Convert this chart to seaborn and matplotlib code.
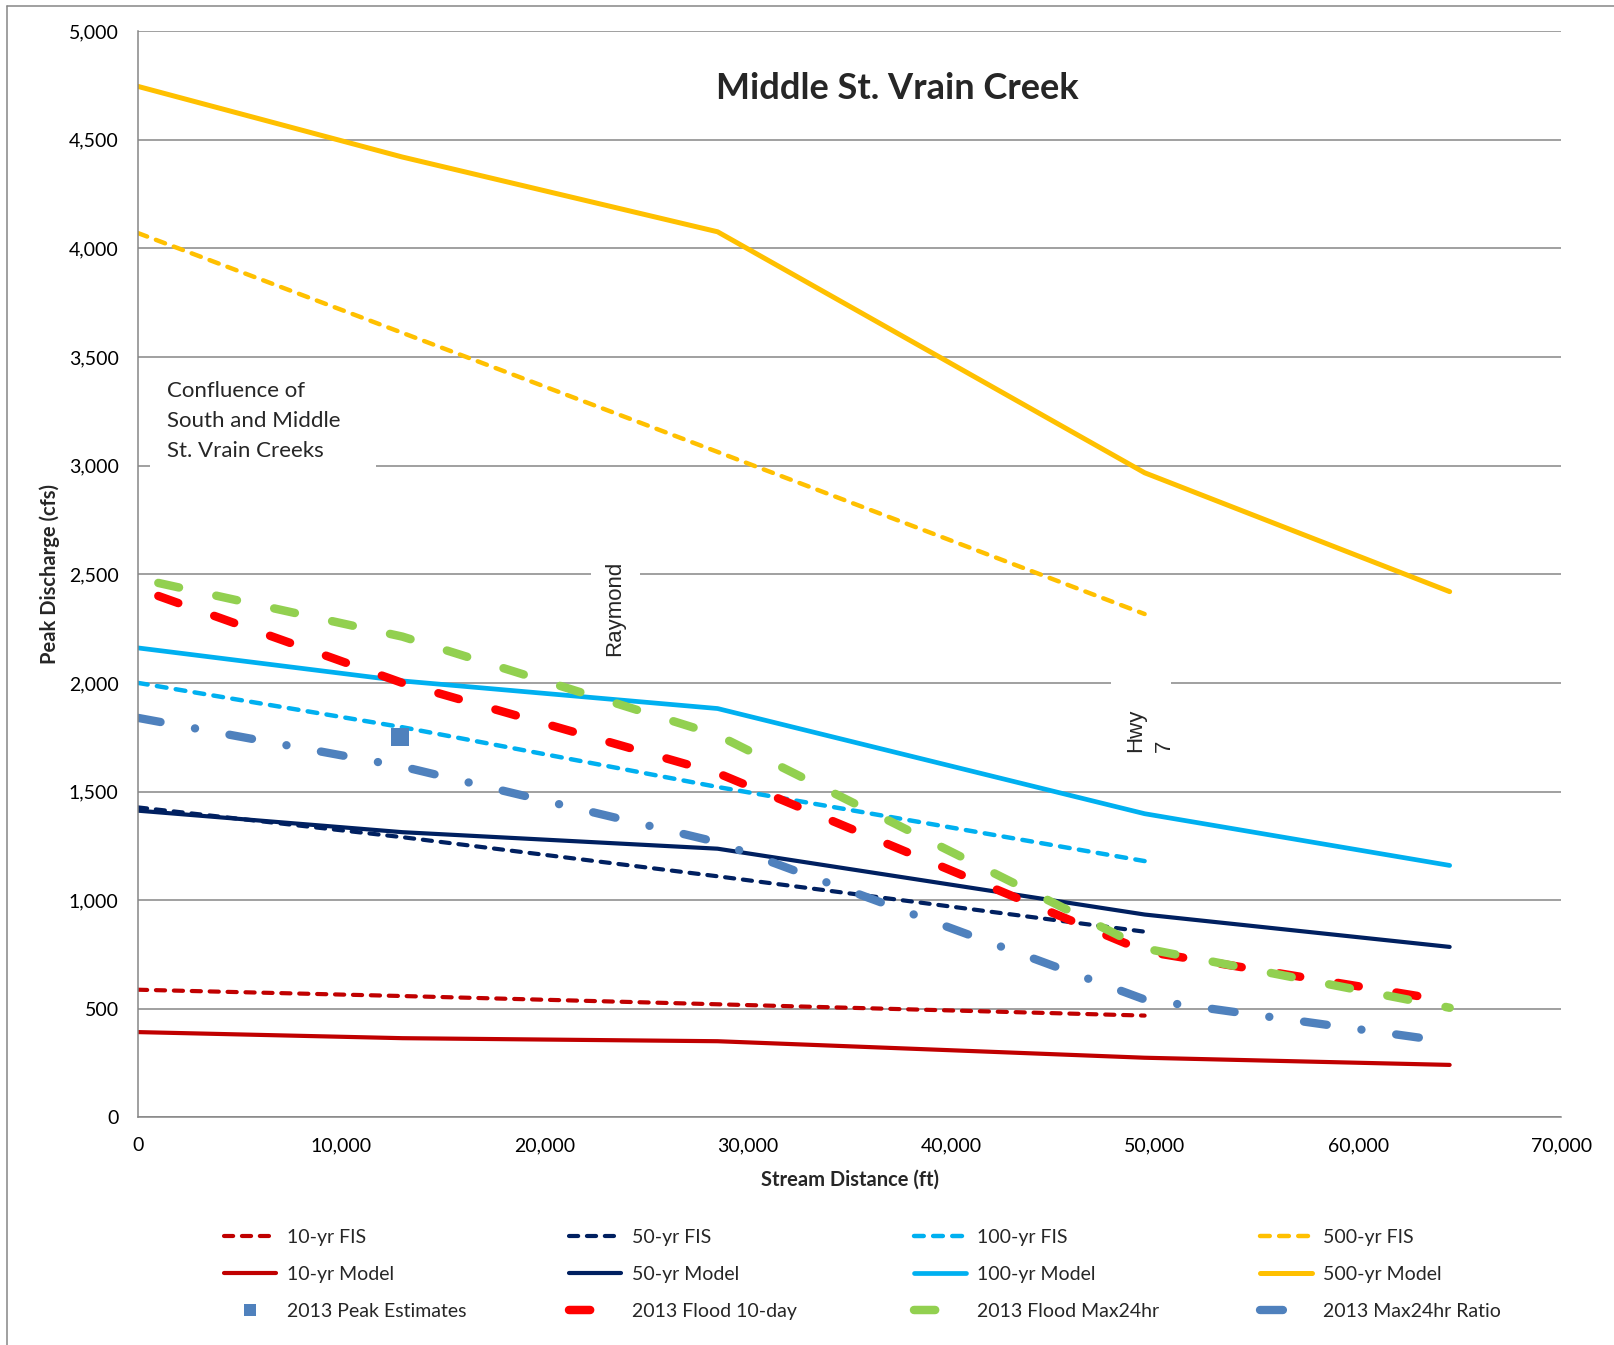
import matplotlib
matplotlib.use("Agg")
import matplotlib.pyplot as plt
import matplotlib.ticker as mticker
from matplotlib.patches import Rectangle
from matplotlib.lines import Line2D
import seaborn as sns

# ---- data -------------------------------------------------------------
# stream stations (ft)
x_fis = [0, 13000, 28500, 49500]
x_model = [0, 13000, 28500, 49500, 64500]
x_flood = [1000, 13000, 28500, 49500, 64500]

# peak discharge (cfs)
fis_10 = [588, 559, 521, 469]
fis_50 = [1427, 1290, 1110, 855]
fis_100 = [2000, 1796, 1521, 1180]
fis_500 = [4070, 3611, 3063, 2317]

model_10 = [393, 365, 351, 275, 242]
model_50 = [1412, 1313, 1237, 934, 785]
model_100 = [2161, 2009, 1882, 1398, 1160]
model_500 = [4745, 4420, 4076, 2967, 2420]

flood_10day = [2400, 2000, 1585, 765, 535]
flood_max24 = [2460, 2213, 1760, 778, 505]
max24_ratio = [1839, 1615, 1267, 543, 348]

peak_x = [12900]
peak_y = [1750]

x_ticks = [0, 10000, 20000, 30000, 40000, 50000, 60000, 70000]
y_ticks = [0, 500, 1000, 1500, 2000, 2500, 3000, 3500, 4000, 4500, 5000]

# ---- style ------------------------------------------------------------
sns.set_theme(style="white")
plt.rcParams["font.family"] = ["Lato", "DejaVu Sans"]

GRID = "#868686"
C10, C50, C100, C500 = "#C00000", "#002060", "#00B0F0", "#FFC000"
C_10DAY, C_MAX24, C_RATIO = "#FF0000", "#92D050", "#4F81BD"

FIS_LS = (0, (2.2, 2.1))
FLOOD_LS = (0, (2.5, 4.5))
RATIO_LS = (0, (2.75, 4.2, 0.01, 4.2))

fig = plt.figure(figsize=(16.15, 13.45), dpi=100)
ax = fig.add_axes([0.08545, 0.16915, 0.88142, 0.8078])


def draw(x, y, color, lw, ls):
    sns.lineplot(x=x, y=y, ax=ax, color=color, linewidth=lw, linestyle=ls,
                 dash_capstyle="round", solid_capstyle="round",
                 solid_joinstyle="round", errorbar=None, legend=False)
    return ax.lines[-1]


h = {}
h["10-yr FIS"] = draw(x_fis, fis_10, C10, 3.0, FIS_LS)
h["50-yr FIS"] = draw(x_fis, fis_50, C50, 3.0, FIS_LS)
h["100-yr FIS"] = draw(x_fis, fis_100, C100, 3.2, FIS_LS)
h["500-yr FIS"] = draw(x_fis, fis_500, C500, 3.2, FIS_LS)
h["10-yr Model"] = draw(x_model, model_10, C10, 3.0, "-")
h["50-yr Model"] = draw(x_model, model_50, C50, 3.0, "-")
h["100-yr Model"] = draw(x_model, model_100, C100, 3.4, "-")
h["500-yr Model"] = draw(x_model, model_500, C500, 3.6, "-")

sns.scatterplot(x=peak_x, y=peak_y, ax=ax, marker="s", s=170, color=C_RATIO,
                edgecolor="none", linewidth=0, zorder=3, legend=False)
h["2013 Peak Estimates"] = Line2D([], [], linestyle="none", marker="s",
                                  markersize=9, color=C_RATIO,
                                  markeredgewidth=0)

h["2013 Flood 10-day"] = draw(x_flood, flood_10day, C_10DAY, 6.1, FLOOD_LS)
h["2013 Flood Max24hr"] = draw(x_flood, flood_max24, C_MAX24, 6.1, FLOOD_LS)
h["2013 Max24hr Ratio"] = draw(x_model, max24_ratio, C_RATIO, 6.0, RATIO_LS)

# ---- axes -------------------------------------------------------------
ax.set_xlim(0, 70000)
ax.set_ylim(0, 5000)
ax.set_xticks(x_ticks)
ax.set_yticks(y_ticks)
ax.xaxis.set_major_formatter(mticker.StrMethodFormatter("{x:,.0f}"))
ax.yaxis.set_major_formatter(mticker.StrMethodFormatter("{x:,.0f}"))
ax.set_axisbelow(True)
ax.grid(axis="y", color=GRID, linewidth=1.1)
ax.grid(axis="x", visible=False)
for side in ("top", "right"):
    ax.spines[side].set_visible(False)
for side in ("left", "bottom"):
    ax.spines[side].set_color(GRID)
    ax.spines[side].set_linewidth(1.1)
ax.tick_params(axis="both", direction="out", length=5, width=1.1,
               color=GRID, labelsize=14, labelcolor="black")
ax.tick_params(axis="y", pad=9)
ax.tick_params(axis="x", pad=9)

ax.set_xlabel("Stream Distance (ft)", fontsize=14.5, fontweight="bold")
ax.set_ylabel("Peak Discharge (cfs)", fontsize=14.5, fontweight="bold")
ax.xaxis.set_label_coords(0.5, -0.0575)
ax.xaxis.label.set_va("center")
ax.yaxis.set_label_coords(-0.0622, 0.5)
ax.yaxis.label.set_va("center")

# ---- location notes (white text boxes over the grid) -------------------
for x0, x1, y0, y1 in [(590, 11700, 2957, 3440),
                       (22275, 24685, 2060, 2620),
                       (47846, 50797, 1645, 2036)]:
    ax.add_patch(Rectangle((x0, y0), x1 - x0, y1 - y0, facecolor="white",
                           edgecolor="none", zorder=1))

ax.text(1426, 3205, "Confluence of\nSouth and Middle\nSt. Vrain Creeks",
        fontsize=16, ha="left", va="center", linespacing=1.6, zorder=1.5)
ax.text(23455, 2342, "Raymond", fontsize=16, rotation=90, ha="center",
        va="center", family=["Liberation Sans", "DejaVu Sans"], zorder=1.5)
ax.text(49760, 1682, "Hwy\n7", fontsize=16, rotation=90, ha="center",
        va="bottom", multialignment="left", linespacing=1.5,
        family=["Liberation Sans", "DejaVu Sans"], zorder=1.5)

# ---- title ------------------------------------------------------------
fig.text(0.5554, 0.9342, "Middle St. Vrain Creek", ha="center", va="center",
         fontsize=26, fontweight="bold")

# ---- legend: four columns below the plot -------------------------------
columns = [
    ["10-yr FIS", "10-yr Model", "2013 Peak Estimates"],
    ["50-yr FIS", "50-yr Model", "2013 Flood 10-day"],
    ["100-yr FIS", "100-yr Model", "2013 Flood Max24hr"],
    ["500-yr FIS", "500-yr Model", "2013 Max24hr Ratio"],
]
col_x = [224 / 1615, 569 / 1615, 914 / 1615, 1260 / 1615]
for cx, names in zip(col_x, columns):
    fig.legend([h[n] for n in names], names, loc="upper left",
               bbox_to_anchor=(cx, 1 - 1229 / 1345), frameon=False,
               fontsize=14, handlelength=2.65, handletextpad=0.6,
               labelspacing=1.02, borderpad=0, borderaxespad=0)

# ---- outer chart border -----------------------------------------------
bx, by = 7.5 / 1615, 1 - 6 / 1345
fig.add_artist(Line2D([bx, bx], [0, by], transform=fig.transFigure,
                      color=GRID, linewidth=1.1))
fig.add_artist(Line2D([bx, 1], [by, by], transform=fig.transFigure,
                      color=GRID, linewidth=1.1))

fig.savefig("out.png", dpi=100, facecolor="white")
